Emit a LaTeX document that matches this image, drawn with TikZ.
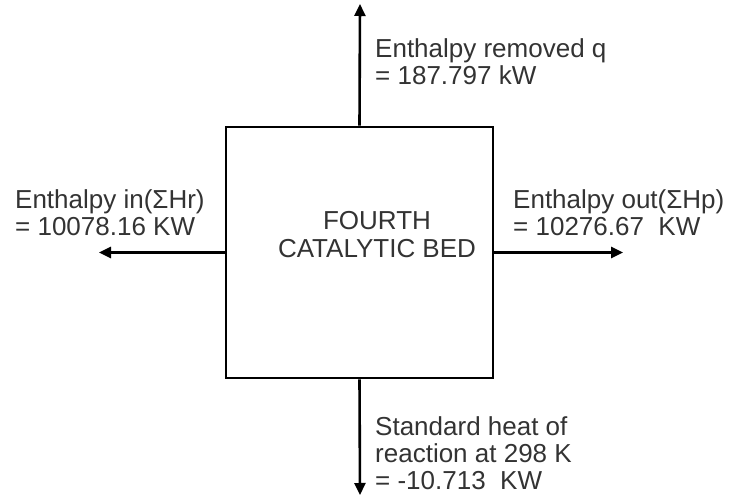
\documentclass[tikz,border=0pt]{standalone}
\usepackage{fontspec}
\setmainfont{Liberation Sans}
\usetikzlibrary{arrows.meta}
\definecolor{txtgray}{HTML}{333333}
\tikzset{
  flow/.style={line width=2.6pt, draw=black, -{Triangle[length=12pt,width=11pt]}},
  bedbox/.style={draw=black, line width=2.6pt, minimum width=267pt, minimum height=251pt, inner sep=0pt, fill=white},
  lbl/.style={inner sep=0pt, text=txtgray, font=\fontsize{26}{27}\selectfont},
}
\begin{document}
\begin{tikzpicture}[x=1pt,y=-1pt]
\useasboundingbox (0,0) rectangle (731,496);
\node[bedbox] (bed) at (359.5,252.5) {};
\node[lbl, anchor=base] (bedtxt) at (377,229)
  {\fontsize{26}{28}\selectfont\begin{tabular}[t]{@{}c@{}}FOURTH\\CATALYTIC BED\end{tabular}};
\coordinate (topend) at (360,4);
\coordinate (botend) at (360,495);
\coordinate (leftend) at (99,252.5);
\coordinate (rightend) at (623,252.5);
\draw[flow] (bed.north) -- (topend);
\draw[flow] (bed.south) -- (botend);
\draw[flow] (bed.west) -- (leftend);
\draw[flow] (bed.east) -- (rightend);
\node[lbl, anchor=base west] (qtxt) at (375,57)
  {\begin{tabular}[t]{@{}l@{}}Enthalpy removed q\\= 187.797 kW\end{tabular}};
\node[lbl, anchor=base west] (intxt) at (15,208.5)
  {\begin{tabular}[t]{@{}l@{}}Enthalpy in(ΣHr)\\= 10078.16 KW\end{tabular}};
\node[lbl, anchor=base west] (outtxt) at (513,208.5)
  {\begin{tabular}[t]{@{}l@{}}Enthalpy out(ΣHp)\\= 10276.67\ \ KW\end{tabular}};
\node[lbl, anchor=base west] (heattxt) at (375,435)
  {\begin{tabular}[t]{@{}l@{}}Standard heat of\\reaction at 298 K\\= -10.713\ \ KW\end{tabular}};
\end{tikzpicture}
\end{document}
